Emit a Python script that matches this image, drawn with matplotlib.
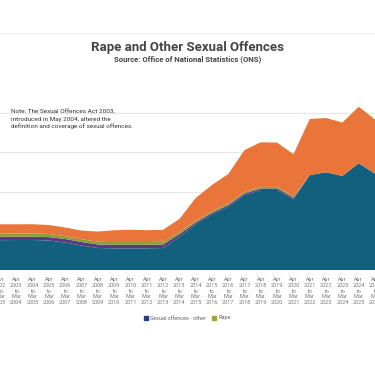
import matplotlib
matplotlib.use("Agg")
import matplotlib.pyplot as plt
from matplotlib.patches import Patch
import numpy as np

plt.rcParams['font.family'] = ['Roboto', 'DejaVu Sans']

start_years = list(range(2002, 2026))
tick_labels = [f"Apr\n{y}\nto\nMar\n{y+1}" for y in start_years]

# values in thousands of offences
other_sexual = [38.0, 38.2, 38.2, 37.6, 35.0, 31.2, 28.0, 27.6, 27.6, 27.6, 28.0, 42.0,
                58.6, 70.7, 80.9, 95.5, 101.9, 101.9, 90.0, 121.0, 124.5, 119.8, 136.0, 122.7]
band_purple = [4.3, 4.3, 4.3, 4.3, 4.5, 4.5, 4.5, 4.5, 4.5, 4.5, 4.5, 3.5,
               2.0, 2.0, 2.0, 2.0, 2.0, 2.0, 2.0, 0.0, 0.0, 0.0, 0.0, 0.0]
band_olive = [4.0, 4.0, 4.0, 4.0, 3.5, 3.5, 3.5, 3.5, 3.5, 3.5, 3.5, 3.0,
              2.0, 2.0, 2.0, 2.0, 2.0, 2.0, 2.0, 0.0, 0.0, 0.0, 0.0, 0.0]
total = [58.2, 58.2, 58.3, 57.3, 54.1, 50.3, 48.8, 50.6, 51.3, 50.7, 51.2, 65.0,
         91.7, 108.3, 122.3, 152.9, 162.7, 162.2, 147.4, 192.4, 193.6, 187.9, 208.0, 191.7]
rape = [t - o - p - g for t, o, p, g in zip(total, other_sexual, band_purple, band_olive)]

legend_labels = ["Sexual offences - other", "Rape"]

W, H = 375, 366
fig = plt.figure(figsize=(W / 100, H / 100), dpi=100)

ax_bottom = 270
ax_top = 80
ax = fig.add_axes([0, 1 - ax_bottom / H, 1, (ax_bottom - ax_top) / H])

x = np.arange(len(start_years))
step = 17.1
x0_px = 5.0
i0 = start_years.index(2003)
left = i0 - x0_px / step
right = left + W / step
ax.set_xlim(left, right)
ymax = (ax_bottom - ax_top) / 39.25 * 50
ax.set_ylim(0, ymax)

ax.stackplot(x, other_sexual, band_purple, band_olive, rape,
             colors=['#135f7e', '#5b3a80', '#8c9d3a', '#e9753a'], lw=0)

for g in [50, 100, 150, 200]:
    ax.axhline(g, color='#e6e6e6', lw=0.8, zorder=0)

for s in ax.spines.values():
    s.set_visible(False)
ax.set_yticks([])
ax.set_xticks(x)
ax.set_xticklabels(tick_labels, fontsize=4, color='#777777', linespacing=1.2)
ax.tick_params(axis='x', length=0, pad=5)

ax.text(11 / W * (right - left) + left, 0, "", transform=ax.transData)
fig.text(11 / W, 1 - 110 / H,
         "Note: The Sexual Offences Act 2003,\nintroduced in May 2004, altered the\ndefinition and coverage of sexual offences.",
         fontsize=4.6, color='#333333', va='top', ha='left', linespacing=1.35)

fig.text(0.5, 1 - 47 / H, "Rape and Other Sexual Offences", ha='center', va='center',
         fontsize=9.5, fontweight='bold', color='#444444')
fig.text(0.5, 1 - 59 / H, "Source: Office of National Statistics (ONS)", ha='center', va='center',
         fontsize=5.6, fontweight='bold', color='#444444')

fig.add_artist(plt.Line2D([0, 1], [1 - 33 / H, 1 - 33 / H], color='#eeeeee', lw=0.8))

handles = [Patch(color='#2c3b7d'), Patch(color='#a3a43a')]
fig.legend(handles, legend_labels, loc='center', bbox_to_anchor=(0.5, 1 - 318 / H),
           ncol=2, frameon=False, fontsize=4, handlelength=0.7, handleheight=0.7,
           handletextpad=0.4, columnspacing=1.2, labelcolor='#666666')

fig.savefig("out.png", dpi=100)
